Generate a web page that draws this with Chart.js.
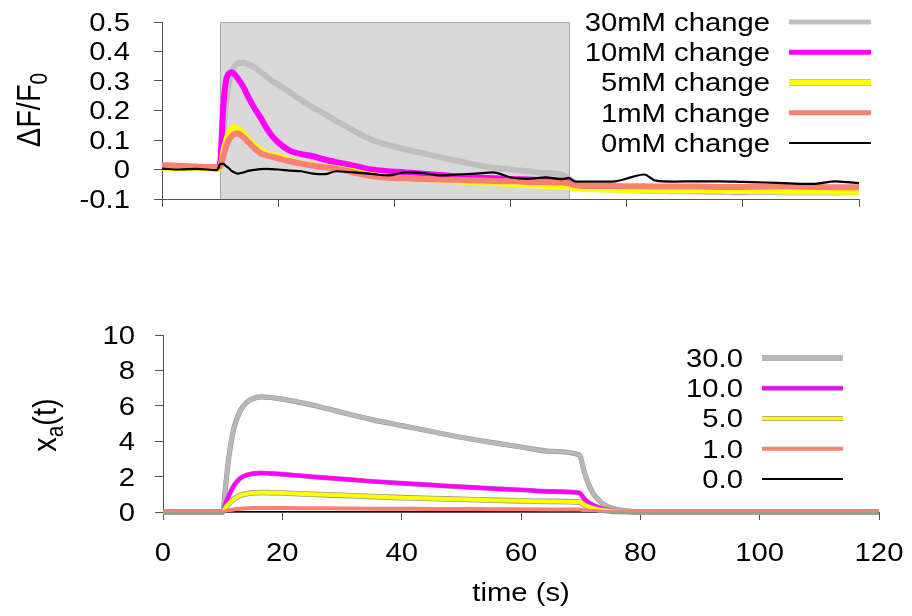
<!DOCTYPE html>
<html><head><meta charset="utf-8">
<script src="https://cdn.jsdelivr.net/npm/chart.js@4.4.1/dist/chart.umd.min.js"></script>
<style>
html,body{margin:0;padding:0;background:#fff;}
#wrap{position:relative;width:912px;height:616px;overflow:hidden;}
canvas{position:absolute;left:0;top:0;}
</style></head><body>
<div id="wrap"><canvas id="topChart" width="912" height="616"></canvas><canvas id="botChart" width="912" height="616"></canvas></div>
<script>
// ---------- data ----------
const stimWindow = [10, 70];
const timeTicks = [0, 20, 40, 60, 80, 100, 120];
const timeTickLabels = ['0', '20', '40', '60', '80', '100', '120'];
const dffTicks = [-0.1, 0, 0.1, 0.2, 0.3, 0.4, 0.5];
const dffTickLabels = ['-0.1', '0', '0.1', '0.2', '0.3', '0.4', '0.5'];
const xaTicks = [0, 2, 4, 6, 8, 10];
const xaTickLabels = ['0', '2', '4', '6', '8', '10'];
const topLabels = ['30mM change', '10mM change', '5mM change', '1mM change', '0mM change'];
const botLabels = ['30.0', '10.0', '5.0', '1.0', '0.0'];

const topTime = [0, 3, 6, 9.5, 10, 10.5, 11, 11.5, 12, 12.5, 13, 14, 15, 16, 17, 18, 19, 20, 22, 24, 26, 28, 30, 33, 36, 39, 42, 45, 48, 51, 54, 57, 60, 63, 66, 69, 70, 71, 72, 75, 78, 81, 83, 85, 88, 92, 96, 100, 104, 108, 112, 116, 118, 120];
const dff30 = [0.01, 0.008, 0.007, 0.006, 0.02, 0.12, 0.22, 0.29, 0.33, 0.35, 0.36, 0.362, 0.355, 0.345, 0.33, 0.315, 0.3, 0.288, 0.262, 0.235, 0.21, 0.188, 0.165, 0.132, 0.102, 0.083, 0.068, 0.055, 0.041, 0.029, 0.016, 0.006, 0.0, -0.006, -0.012, -0.018, -0.03, -0.045, -0.055, -0.065, -0.068, -0.07, -0.072, -0.072, -0.074, -0.075, -0.076, -0.077, -0.077, -0.078, -0.078, -0.078, -0.077, -0.076];
const dff10 = [0.012, 0.01, 0.008, 0.007, 0.02, 0.2, 0.3, 0.325, 0.33, 0.322, 0.31, 0.28, 0.24, 0.205, 0.175, 0.14, 0.112, 0.092, 0.064, 0.052, 0.045, 0.034, 0.025, 0.013, 0.0, -0.006, -0.01, -0.014, -0.019, -0.023, -0.027, -0.03, -0.032, -0.034, -0.036, -0.037, -0.042, -0.052, -0.058, -0.062, -0.063, -0.065, -0.066, -0.066, -0.068, -0.07, -0.072, -0.074, -0.07, -0.066, -0.07, -0.07, -0.068, -0.066];
const dff5 = [0.005, 0.003, 0.005, 0.0, 0.005, 0.06, 0.1, 0.125, 0.14, 0.145, 0.14, 0.125, 0.1, 0.082, 0.068, 0.055, 0.05, 0.046, 0.033, 0.022, 0.015, 0.01, 0.005, -0.005, -0.018, -0.024, -0.028, -0.032, -0.036, -0.041, -0.044, -0.047, -0.05, -0.053, -0.056, -0.058, -0.06, -0.064, -0.066, -0.068, -0.069, -0.07, -0.07, -0.071, -0.072, -0.072, -0.073, -0.074, -0.074, -0.075, -0.075, -0.076, -0.076, -0.077];
const dff1 = [0.015, 0.013, 0.01, 0.007, 0.01, 0.04, 0.075, 0.1, 0.113, 0.12, 0.122, 0.11, 0.09, 0.07, 0.055, 0.048, 0.043, 0.038, 0.028, 0.02, 0.013, 0.008, 0.003, -0.01, -0.022, -0.028, -0.03, -0.032, -0.034, -0.035, -0.037, -0.039, -0.04, -0.042, -0.043, -0.044, -0.047, -0.052, -0.055, -0.056, -0.056, -0.057, -0.057, -0.058, -0.058, -0.058, -0.059, -0.059, -0.058, -0.058, -0.059, -0.06, -0.06, -0.06];
const dff0 = [0.003, 0.0, 0.002, -0.002, 0.018, 0.02, 0.012, 0.005, -0.005, -0.01, -0.014, -0.01, -0.004, -0.001, 0.001, 0.002, 0.001, 0.0, -0.004, -0.006, -0.014, -0.016, -0.006, -0.01, -0.015, -0.02, -0.01, -0.012, -0.02, -0.017, -0.014, -0.01, -0.027, -0.032, -0.027, -0.033, -0.028, -0.04, -0.041, -0.041, -0.04, -0.025, -0.017, -0.038, -0.041, -0.04, -0.04, -0.042, -0.044, -0.047, -0.049, -0.04, -0.043, -0.046];

const botTime = [0, 5, 9.9, 10, 10.5, 11, 11.5, 12, 13, 14, 15, 16.5, 18, 20, 25, 30, 35, 40, 45, 50, 55, 60, 65, 69.8, 70.5, 71, 72, 73, 74, 75, 76, 78, 80, 90, 100, 110, 120];
const xa30 = [0, 0, 0, 0, 1.5, 3.0, 4.1, 4.9, 5.75, 6.2, 6.4, 6.5, 6.47, 6.38, 6.05, 5.62, 5.22, 4.88, 4.55, 4.22, 3.93, 3.67, 3.43, 3.22, 2.4, 1.85, 1.1, 0.68, 0.4, 0.24, 0.15, 0.05, 0.01, 0, 0, 0, 0];
const xa10 = [0, 0, 0, 0, 0.5, 0.9, 1.25, 1.55, 1.92, 2.08, 2.16, 2.2, 2.18, 2.13, 1.99, 1.86, 1.73, 1.62, 1.52, 1.42, 1.33, 1.25, 1.16, 1.08, 0.8, 0.62, 0.4, 0.26, 0.16, 0.1, 0.06, 0.02, 0, 0, 0, 0, 0];
const xa5 = [0, 0, 0, 0, 0.25, 0.45, 0.62, 0.76, 0.94, 1.03, 1.08, 1.1, 1.09, 1.07, 1.0, 0.94, 0.87, 0.81, 0.76, 0.72, 0.67, 0.63, 0.6, 0.56, 0.42, 0.33, 0.21, 0.13, 0.08, 0.05, 0.03, 0.01, 0, 0, 0, 0, 0];
const xa1 = [0, 0, 0, 0, 0.05, 0.09, 0.12, 0.15, 0.19, 0.21, 0.22, 0.22, 0.22, 0.22, 0.21, 0.2, 0.19, 0.18, 0.17, 0.165, 0.16, 0.15, 0.145, 0.14, 0.1, 0.08, 0.05, 0.03, 0.02, 0.01, 0.005, 0, 0, 0, 0, 0, 0];
const xa0 = [0, 0, 0, 0, 0, 0, 0, 0, 0, 0, 0, 0, 0, 0, 0, 0, 0, 0, 0, 0, 0, 0, 0, 0, 0, 0, 0, 0, 0, 0, 0, 0, 0, 0, 0, 0, 0];

// ---------- helpers ----------
const FONT = '"Liberation Sans", Arial, Helvetica, sans-serif';
const SX = 1.17;
const AXC = '#555555';
const pairs = (xs, ys) => xs.map((x, i) => ({x: x, y: ys[i]}));

function hText(ctx, s, x, y, size, align) {
  ctx.save();
  ctx.font = size + 'px ' + FONT;
  ctx.fillStyle = '#000';
  ctx.textBaseline = 'alphabetic';
  ctx.textAlign = align;
  ctx.translate(x, y);
  ctx.scale(SX, 1);
  ctx.fillText(s, 0, 0);
  ctx.restore();
}
function vTitle(ctx, parts, baseX, cy, size) {
  ctx.save();
  ctx.fillStyle = '#000';
  ctx.textBaseline = 'alphabetic';
  ctx.textAlign = 'left';
  ctx.translate(baseX, cy);
  ctx.rotate(-Math.PI / 2);
  ctx.scale(1, SX);
  let total = 0;
  parts.forEach(p => { ctx.font = (p.sub ? size * 0.72 : size) + 'px ' + FONT; p.w = ctx.measureText(p.t).width; total += p.w; });
  let x = -total / 2;
  parts.forEach(p => {
    ctx.font = (p.sub ? size * 0.72 : size) + 'px ' + FONT;
    ctx.fillText(p.t, x, p.sub ? size * 0.22 : 0);
    x += p.w;
  });
  ctx.restore();
}
function strokeSeg(ctx, x0, x1, y, color, w) {
  ctx.save(); ctx.strokeStyle = color; ctx.lineWidth = w; ctx.lineCap = 'butt';
  ctx.beginPath(); ctx.moveTo(x0, y); ctx.lineTo(x1, y); ctx.stroke(); ctx.restore();
}

const shadePlugin = {
  id: 'shade',
  beforeDraw(chart) {
    const o = chart.config.options.plugins.shade;
    if (!o) return;
    const {ctx, scales: {x, y}} = chart;
    const x0 = Math.round(x.getPixelForValue(stimWindow[0])) + 0.5;
    const x1 = Math.round(x.getPixelForValue(stimWindow[1])) + 0.5;
    const y0 = Math.round(y.getPixelForValue(y.max)) + 0.5;
    const y1 = y.getPixelForValue(y.min);
    ctx.save();
    ctx.fillStyle = '#d9d9d9';
    ctx.fillRect(x0, y0, x1 - x0, y1 - y0);
    ctx.strokeStyle = '#a9a9a9'; ctx.lineWidth = 1;
    ctx.beginPath(); ctx.moveTo(x0, y1); ctx.lineTo(x0, y0); ctx.lineTo(x1, y0); ctx.lineTo(x1, y1); ctx.stroke();
    ctx.restore();
  }
};

const outlinePlugin = {
  id: 'outline',
  beforeDatasetDraw(chart, args) {
    const ds = chart.data.datasets[args.index];
    if (!ds.outlineColor) return;
    const pts = args.meta.data;
    const ctx = chart.ctx;
    const a = chart.chartArea;
    ctx.save();
    ctx.beginPath(); ctx.rect(a.left - 5, a.top - 5, a.right - a.left + 10, a.bottom - a.top + 10); ctx.clip();
    ctx.strokeStyle = ds.outlineColor; ctx.lineWidth = ds.borderWidth + ds.outlineExtra;
    ctx.lineJoin = 'round'; ctx.lineCap = 'butt';
    ctx.beginPath();
    pts.forEach((p, i) => {
      if (i === 0) { ctx.moveTo(p.x, p.y); return; }
      const q = pts[i - 1];
      if (q.cp2x !== undefined && p.cp1x !== undefined) ctx.bezierCurveTo(q.cp2x, q.cp2y, p.cp1x, p.cp1y, p.x, p.y);
      else ctx.lineTo(p.x, p.y);
    });
    ctx.stroke();
    ctx.restore();
  }
};

const textPlugin = {
  id: 'texts',
  afterDraw(chart) {
    const o = chart.config.options.plugins.texts;
    const ctx = chart.ctx;
    const {x, y} = chart.scales;
    const fs = 25;
    // y tick labels
    y.ticks.forEach((t, i) => {
      const py = y.getPixelForValue(t.value);
      hText(ctx, o.yLabels[i], o.yLabelRight, py + 0.716 * fs / 2, fs, 'right');
    });
    if (o.xLabels) {
      x.ticks.forEach((t, i) => {
        const px = x.getPixelForValue(t.value);
        hText(ctx, o.xLabels[i], px, o.xLabelMid + 0.716 * fs / 2, fs, 'center');
      });
    }
    if (o.xTitle) hText(ctx, o.xTitle, (chart.chartArea.left + chart.chartArea.right) / 2, o.xTitleBase, fs, 'center');
    vTitle(ctx, o.yTitle, o.yTitleBase, o.yTitleMid, o.yTitleSize);
    // legend
    const lg = o.legend;
    chart.data.datasets.forEach((ds, i) => {
      const ry = lg.y0 + i * lg.dy;
      hText(ctx, ds.label, lg.textRight, ry + 0.716 * fs / 2, fs, 'right');
      if (ds.outlineColor || ds.legendOutline) strokeSeg(ctx, lg.x0, lg.x1, ry, ds.legendOutline || ds.outlineColor, ds.legendWidth + 1.5);
      strokeSeg(ctx, lg.x0, lg.x1, ry, ds.borderColor, ds.legendWidth);
    });
  }
};

function axisOpts(ticksArr, min, max, size, isX) {
  return {
    type: 'linear', min: min, max: max,
    afterBuildTicks: s => { s.ticks = ticksArr.map(v => ({value: v})); },
    afterFit: s => { if (isX) s.height = size; else s.width = size; },
    ticks: {display: false},
    grid: {display: true, drawOnChartArea: false, drawTicks: true, tickLength: 8, color: AXC, lineWidth: 1},
    border: {display: true, color: AXC, width: 1}
  };
}

const common = {
  responsive: false, animation: false, devicePixelRatio: 1,
  events: [],
  elements: {point: {radius: 0}, line: {cubicInterpolationMode: 'monotone', borderJoinStyle: 'round', borderCapStyle: 'butt'}},
};

// ---------- top chart ----------
new Chart(document.getElementById('topChart'), {
  type: 'line',
  data: {datasets: [
    {label: topLabels[0], data: pairs(topTime, dff30), borderColor: '#bfbfbf', borderWidth: 6, legendWidth: 5, order: 4},
    {label: topLabels[1], data: pairs(topTime, dff10), borderColor: '#ff00ff', borderWidth: 6, legendWidth: 5, order: 3},
    {label: topLabels[2], data: pairs(topTime, dff5), borderColor: '#ffff00', borderWidth: 5.5, legendWidth: 5, legendOutline: '#b5b28a', order: 2},
    {label: topLabels[3], data: pairs(topTime, dff1), borderColor: '#fa8072', borderWidth: 6, legendWidth: 5, order: 1},
    {label: topLabels[4], data: pairs(topTime, dff0), borderColor: '#000000', borderWidth: 2.2, legendWidth: 2.2, order: 0}
  ]},
  options: Object.assign({}, common, {
    layout: {padding: {left: 0, top: 22, right: 53, bottom: 616 - 199 - 8}},
    plugins: {
      legend: {display: false}, tooltip: {enabled: false}, shade: true,
      texts: {
        yLabels: dffTickLabels, yLabelRight: 130,
        yTitle: [{t: 'ΔF/F'}, {t: '0', sub: true}], yTitleBase: 40, yTitleMid: 110, yTitleSize: 29,
        legend: {textRight: 770, x0: 789, x1: 871, y0: 22, dy: 30.25}
      }
    },
    scales: {
      x: axisOpts(timeTicks, 0, 120, 8, true),
      y: axisOpts(dffTicks, -0.1, 0.5, 162, false)
    }
  }),
  plugins: [shadePlugin, outlinePlugin, textPlugin]
});

// ---------- bottom chart ----------
new Chart(document.getElementById('botChart'), {
  type: 'line',
  data: {datasets: [
    {label: botLabels[0], data: pairs(botTime, xa30), borderColor: '#b8b8b8', borderWidth: 4, outlineColor: '#9c9c9c', outlineExtra: 1.2, legendWidth: 4, order: 3},
    {label: botLabels[1], data: pairs(botTime, xa10), borderColor: '#ff00ff', borderWidth: 4, outlineColor: '#b07ab0', outlineExtra: 1, legendWidth: 3.5, order: 2},
    {label: botLabels[2], data: pairs(botTime, xa5), borderColor: '#ffff00', borderWidth: 4, outlineColor: '#9f9f86', outlineExtra: 1.6, legendWidth: 3.5, order: 1},
    {label: botLabels[3], data: pairs(botTime, xa1), borderColor: '#fa8072', borderWidth: 4, legendWidth: 4, order: 0},
    {label: botLabels[4], data: pairs(botTime, xa0), borderColor: '#000000', borderWidth: 2.2, legendWidth: 2, order: 5}
  ]},
  options: Object.assign({}, common, {
    layout: {padding: {left: 0, top: 335, right: 33, bottom: 0}},
    plugins: {
      legend: {display: false}, tooltip: {enabled: false},
      texts: {
        yLabels: xaTickLabels, yLabelRight: 135,
        xLabels: timeTickLabels, xLabelMid: 552,
        xTitle: 'time (s)', xTitleBase: 601,
        yTitle: [{t: 'x'}, {t: 'a', sub: true}, {t: '(t)'}], yTitleBase: 56, yTitleMid: 425, yTitleSize: 29,
        legend: {textRight: 743, x0: 762, x1: 843, y0: 358, dy: 30.25}
      }
    },
    scales: {
      x: axisOpts(timeTicks, 0, 120, 104, true),
      y: axisOpts(xaTicks, 0, 10, 163, false)
    }
  }),
  plugins: [outlinePlugin, textPlugin]
});
</script>
</body></html>
